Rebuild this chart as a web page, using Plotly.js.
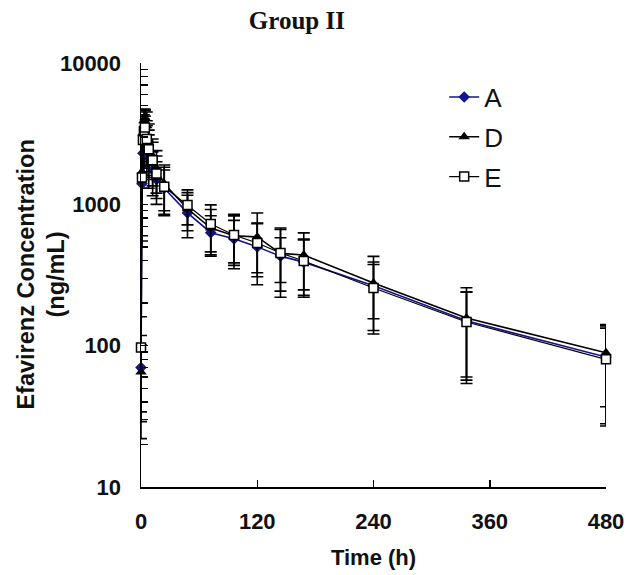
<!DOCTYPE html>
<html>
<head>
<meta charset="utf-8">
<script src="https://cdn.plot.ly/plotly-3.0.1.min.js"></script>
<style>
  html, body { margin: 0; padding: 0; background: #fff; }
  #chart { width: 629px; height: 575px; }
</style>
</head>
<body>
<div id="chart"></div>
<script>
// Sampling times (h)
const timeH = [0, 1, 2, 3, 4, 6, 8, 12, 16, 24, 48, 72, 96, 120, 144, 168, 240, 336, 480];

// Mean efavirenz concentrations (ng/mL)
const meanA = [70, 1400, 2300, 2800, 3000, 2600, 2200, 1750, 1500, 1300, 870, 630, 570, 500, 430, 390, 265, 150, 83];
const meanD = [65, 1700, 3200, 3900, 4100, 3600, 2700, 2200, 1800, 1400, 930, 680, 600, 588, 450, 438, 278, 157, 89];
const meanE = [97, 1550, 2850, 3300, 3500, 2900, 2450, 2050, 1650, 1330, 990, 726, 607, 533, 453, 397, 256, 147, 80];

// Standard deviations (ng/mL)
const sdA = [48, 900, 1000, 1200, 1200, 1000, 900, 600, 500, 450, 290, 200, 200, 230, 150, 170, 110, 90, 55];
const sdD = [36, 1100, 1100, 800, 600, 900, 1000, 700, 600, 500, 280, 240, 250, 281, 230, 190, 150, 100, 52];
const sdE = [63, 1000, 1000, 1000, 1100, 1000, 900, 700, 550, 500, 275, 265, 222, 205, 210, 170, 135, 93, 53];

const seriesNames = ['A', 'D', 'E'];
const xTicks = [0, 120, 240, 360, 480];
const yTicks = [10, 100, 1000, 10000];
const yTitleText = 'Efavirenz Concentration<br>(ng/mL)';

// minor ticks at 2..9 of every decade
const yMinor = [];
[10, 100, 1000].forEach(function (dec) {
  for (let k = 2; k <= 9; k++) yMinor.push(k * dec);
});

const errStyle = { type: 'data', visible: true, color: '#000', thickness: 1.6, width: 6 };

const traces = [
  {
    x: timeH, y: meanA, name: seriesNames[0], legendgroup: 'a', cliponaxis: false,
    type: 'scatter', mode: 'lines+markers',
    line: { color: '#14148c', width: 1.6 },
    marker: { symbol: 'diamond', size: 9, color: '#14148c' },
    error_y: Object.assign({ array: sdA }, errStyle)
  },
  {
    x: timeH, y: meanD, name: seriesNames[1], legendgroup: 'd', cliponaxis: false,
    type: 'scatter', mode: 'lines+markers',
    line: { color: '#000', width: 1.6 },
    marker: { symbol: 'triangle-up', size: 10, color: '#000' },
    error_y: Object.assign({ array: sdD }, errStyle)
  },
  {
    x: timeH, y: meanE, name: seriesNames[2], legendgroup: 'e', cliponaxis: false,
    type: 'scatter', mode: 'lines+markers',
    line: { color: '#000', width: 1.2 },
    marker: { symbol: 'square', size: 9, color: '#fff', line: { color: '#000', width: 1.5 } },
    error_y: Object.assign({ array: sdE }, errStyle)
  }
];

const boldFont = { family: 'Liberation Sans, Arial, sans-serif', size: 22, color: '#111', weight: 'bold' };
const yTitleFont = { family: 'Liberation Sans, Arial, sans-serif', size: 23.5, color: '#111', weight: 'bold' };

const layout = {
  width: 629, height: 575,
  paper_bgcolor: '#fff', plot_bgcolor: '#fff',
  margin: { l: 141, r: 23, t: 63, b: 88 },
  showlegend: true,
  title: {
    text: 'Group II',
    font: { family: 'Liberation Serif, Times New Roman, serif', size: 25, color: '#111', weight: 'bold' },
    x: 0.472, xref: 'container', xanchor: 'center',
    y: 0.965, yref: 'container', yanchor: 'middle'
  },
  xaxis: {
    range: [0, 480],
    tickmode: 'array', tickvals: xTicks, ticktext: xTicks.map(String),
    ticks: 'inside', ticklen: 7, tickwidth: 1.5, tickcolor: '#000',
    showline: true, linecolor: '#000', linewidth: 1.5,
    showgrid: false, zeroline: false,
    tickfont: boldFont, ticklabelstandoff: 14,
    title: { text: 'Time (h)', font: boldFont, standoff: 16 }
  },
  yaxis: {
    type: 'log', range: [1, 4],
    tickmode: 'array', tickvals: yTicks, ticktext: yTicks.map(String),
    ticks: 'inside', ticklen: 7, tickwidth: 1.5, tickcolor: '#000',
    minor: { tickmode: 'array', tickvals: yMinor, ticks: 'inside', ticklen: 7, tickwidth: 1.3, tickcolor: '#000', showgrid: false },
    showline: true, linecolor: '#000', linewidth: 1.5,
    showgrid: false, zeroline: false,
    tickfont: boldFont, ticklabelstandoff: 14
  },
  annotations: [{
    text: yTitleText, font: yTitleFont, textangle: -90,
    xref: 'paper', yref: 'paper', x: -0.216, y: 0.5,
    xanchor: 'center', yanchor: 'middle', showarrow: false
  }],
  legend: {
    x: 0.652, xanchor: 'left', y: 0.975, yanchor: 'top',
    bgcolor: 'rgba(0,0,0,0)', borderwidth: 0,
    tracegroupgap: 3,
    font: { family: 'Liberation Sans, Arial, sans-serif', size: 26, color: '#111' }
  }
};

Plotly.newPlot('chart', traces, layout, { displayModeBar: false, staticPlot: true });
</script>
</body>
</html>
